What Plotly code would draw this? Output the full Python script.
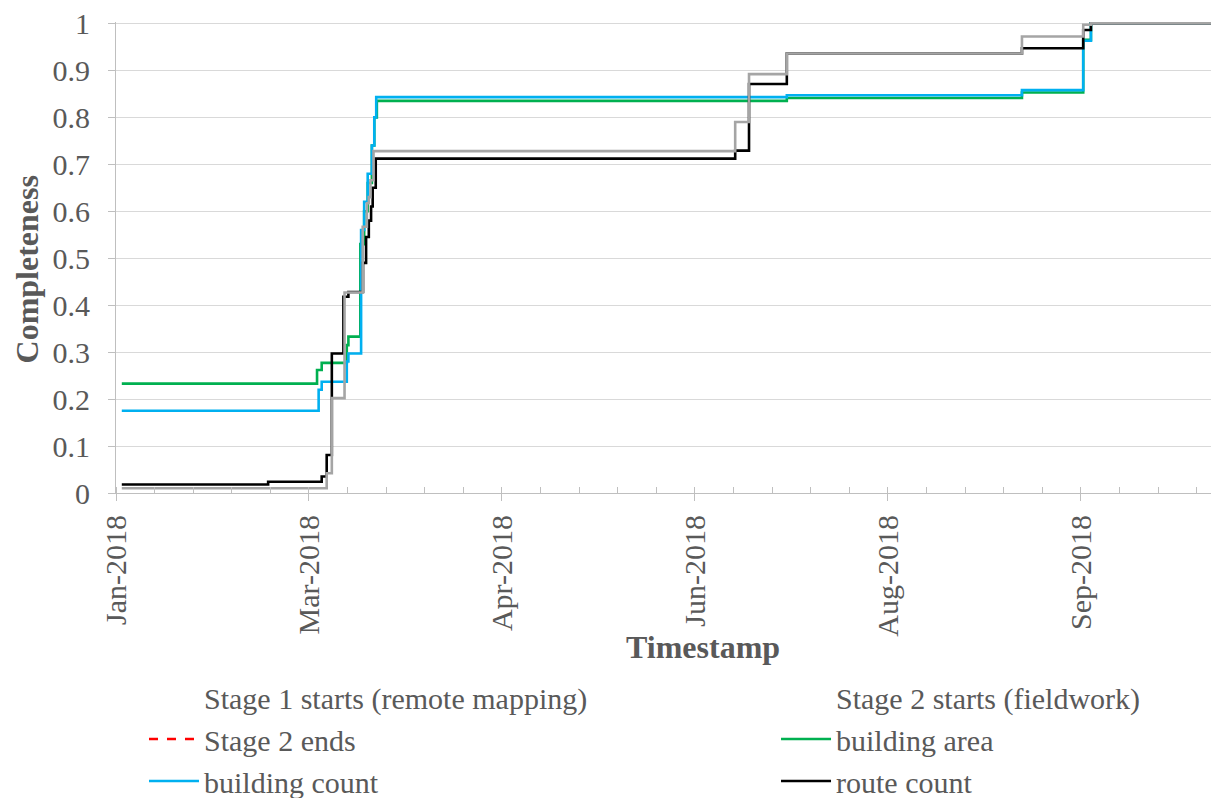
import plotly.graph_objects as go

# ---------------- data ----------------
area_dates = ["2018-01-16 12:00", "2018-03-08 02:00", "2018-03-09 07:00", "2018-03-15 19:00",
              "2018-03-16 05:00", "2018-03-19 07:00", "2018-03-20 07:00", "2018-03-21 05:00",
              "2018-03-22 07:00", "2018-03-22 22:00", "2018-03-23 14:00", "2018-07-07 19:00",
              "2018-09-06 17:00", "2018-09-22 14:00", "2018-09-24 14:00", "2018-10-27 12:00"]
area_vals = [0.233, 0.262, 0.277, 0.315, 0.333, 0.53, 0.60, 0.66, 0.74, 0.80, 0.835,
             0.841, 0.853, 0.965, 1.0, 1.0]

count_dates = ["2018-01-16 12:00", "2018-03-08 12:00", "2018-03-09 07:00", "2018-03-15 19:00",
               "2018-03-16 05:00", "2018-03-19 12:00", "2018-03-20 07:00", "2018-03-21 05:00",
               "2018-03-22 07:00", "2018-03-22 22:00", "2018-03-23 10:00", "2018-07-07 19:00",
               "2018-09-06 17:00", "2018-09-22 14:00", "2018-09-24 14:00", "2018-10-27 12:00"]
count_vals = [0.175, 0.22, 0.237, 0.28, 0.297, 0.56, 0.62, 0.68, 0.74, 0.80, 0.843,
              0.847, 0.858, 0.963, 1.0, 1.0]

route_dates = ["2018-01-16 12:00", "2018-02-23 10:00", "2018-03-09 07:00", "2018-03-10 14:00",
               "2018-03-11 22:00", "2018-03-14 22:00", "2018-03-16 05:00", "2018-03-20 00:00",
               "2018-03-20 19:00", "2018-03-21 12:00", "2018-03-22 02:00", "2018-03-22 12:00",
               "2018-03-23 07:00", "2018-06-24 10:00", "2018-06-28 00:00", "2018-07-07 19:00",
               "2018-09-06 17:00", "2018-09-22 14:00", "2018-09-24 14:00", "2018-10-27 12:00"]
route_vals = [0.018, 0.024, 0.035, 0.081, 0.297, 0.418, 0.428, 0.49, 0.545, 0.58, 0.61, 0.65,
              0.712, 0.729, 0.871, 0.936, 0.947, 0.986, 1.0, 1.0]

length_dates = ["2018-01-16 12:00", "2018-03-10 14:00", "2018-03-11 22:00", "2018-03-15 05:00",
                "2018-03-19 22:00", "2018-03-21 00:00", "2018-03-21 12:00", "2018-03-21 22:00",
                "2018-03-22 17:00", "2018-06-24 10:00", "2018-06-28 00:00", "2018-07-07 19:00",
                "2018-09-06 17:00", "2018-09-22 14:00", "2018-09-24 14:00", "2018-10-27 12:00"]
length_vals = [0.010, 0.042, 0.202, 0.427, 0.567, 0.617, 0.63, 0.666, 0.728, 0.79, 0.892,
               0.936, 0.972, 0.997, 1.0, 1.0]

x_range = ["2018-01-15", "2018-10-27 12:00"]
y_range = [0, 1.003]

TXT = "#595959"
FONT = "Liberation Serif, Times New Roman, serif"
DAY = 86400000

fig = go.Figure()

# legend-only series (no visible marks inside the plot)
fig.add_trace(go.Scatter(x=[None], y=[None], mode="lines", name="Stage 1 starts (remote mapping)",
                         line=dict(color="rgba(0,0,0,0)", width=2.5), legend="legend", legendrank=1))
fig.add_trace(go.Scatter(x=[None], y=[None], mode="lines", name="Stage 2 starts (fieldwork)",
                         line=dict(color="rgba(0,0,0,0)", width=2.5), legend="legend2", legendrank=1))
fig.add_trace(go.Scatter(x=[None], y=[None], mode="lines", name="Stage 2 ends",
                         line=dict(color="#FF0000", width=2.5, dash="dash"), legend="legend", legendrank=2))

fig.add_trace(go.Scatter(x=area_dates, y=area_vals, mode="lines", name="building area",
                         line=dict(color="#00B050", width=2.6, shape="hv"), legend="legend2", legendrank=2))
fig.add_trace(go.Scatter(x=count_dates, y=count_vals, mode="lines", name="building count",
                         line=dict(color="#00B0F0", width=2.6, shape="hv"), legend="legend", legendrank=3))
fig.add_trace(go.Scatter(x=route_dates, y=route_vals, mode="lines", name="route count",
                         line=dict(color="#000000", width=2.6, shape="hv"), legend="legend2", legendrank=3))
fig.add_trace(go.Scatter(x=length_dates, y=length_vals, mode="lines", name="route length",
                         line=dict(color="#A5A5A5", width=2.6, shape="hv"), showlegend=False))

leg_common = dict(orientation="v", xref="container", yref="container", xanchor="left",
                  yanchor="top", y=0.1608, itemwidth=50, tracegroupgap=0,
                  font=dict(family=FONT, size=30, color=TXT), bgcolor="rgba(0,0,0,0)",
                  traceorder="normal")

# the page body adds an 8px offset, so the figure is 8px smaller than the window
fig.update_layout(
    width=1211, height=790,
    margin=dict(l=108, r=1, t=14, b=305, autoexpand=False),
    paper_bgcolor="white", plot_bgcolor="white",
    font=dict(family=FONT, color=TXT, size=30),
    showlegend=True,
    legend=dict(leg_common, x=0.1123),
    legend2=dict(leg_common, x=0.6342),
    xaxis=dict(type="date", range=x_range, tick0="2018-01-15", dtick=50 * DAY,
               tickformat="%b-%Y", tickangle=-90, showgrid=False, zeroline=False,
               showline=True, linecolor="#BFBFBF", linewidth=1,
               ticks="outside", ticklen=7, tickcolor="#BFBFBF",
               tickfont=dict(family=FONT, size=30, color=TXT), ticklabelstandoff=2,
               ticklabeloverflow="allow",
               minor=dict(dtick=10 * DAY, tick0="2018-01-15", ticks="inside", ticklen=6,
                          tickcolor="#BFBFBF", showgrid=False)),
    yaxis=dict(range=y_range, tick0=0, dtick=0.1, showgrid=True, gridcolor="#D9D9D9",
               gridwidth=1, zeroline=False, showline=True, linecolor="#BFBFBF", linewidth=1,
               ticks="outside", ticklen=7, tickcolor="#BFBFBF",
               tickfont=dict(family=FONT, size=30, color=TXT), ticklabelstandoff=12,
               ticklabeloverflow="allow"),
    annotations=[
        dict(text="<b>Timestamp</b>", xref="paper", yref="paper", x=0.5327, y=-0.3266,
             xanchor="center", yanchor="middle", showarrow=False,
             font=dict(family=FONT, size=32, color=TXT)),
        dict(text="<b>Completeness</b>", xref="paper", yref="paper", x=-0.0808, y=0.4745,
             xanchor="center", yanchor="middle", textangle=-90, showarrow=False,
             font=dict(family=FONT, size=32, color=TXT)),
    ],
)

fig.write_html("out.html")
